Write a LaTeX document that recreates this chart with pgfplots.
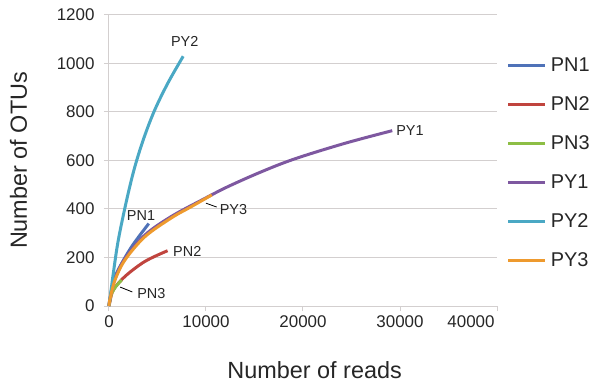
\documentclass[border=0pt]{standalone}
\usepackage{pgfplots}
\pgfplotsset{compat=1.18}
\usepackage{fontspec}
\setmainfont{Liberation Sans}
\definecolor{cPNa}{HTML}{4F72B8}
\definecolor{cPNb}{HTML}{C0443E}
\definecolor{cPNc}{HTML}{8DBE45}
\definecolor{cPYa}{HTML}{7E58A0}
\definecolor{cPYb}{HTML}{4AA8C4}
\definecolor{cPYc}{HTML}{EE9A2E}
\definecolor{gridc}{HTML}{D3CFCF}
\begin{document}
\begin{tikzpicture}
\begin{axis}[
  scale only axis, width=388bp, height=291bp,
  xmin=0, xmax=40000, ymin=0, ymax=1200,
  xtick={0,10000,20000,30000}, extra x ticks={40000},
  extra x tick style={xticklabel style={xshift=-26bp}},
  ytick={0,200,400,600,800,1000,1200},
  scaled x ticks=false,
  /pgf/number format/.cd, 1000 sep={}, assume math mode=true, /pgfplots/.cd,
  axis x line*=bottom, axis y line*=left,
  axis line style={draw=gridc, line width=1bp, -},
  ymajorgrids, major grid style={draw=gridc, line width=1bp},
  tick align=outside, major tick length=5bp,
  tick style={draw=gridc, line width=1bp},
  every tick label/.append style={font=\fontsize{17}{19}\selectfont, text=black!85},
  xticklabel style={yshift=-1bp},
  yticklabel style={xshift=-6bp},
  xlabel={Number of reads}, ylabel={Number of OTUs},
  label style={font=\fontsize{23.5}{26}\selectfont, text=black!85},
  xlabel style={at={(axis description cs:0.53,-0.22)}, anchor=center},
  ylabel style={at={(axis description cs:-0.233,0.5)}, anchor=center, rotate=0},
  legend style={draw=none, fill=none, at={(axis description cs:1.025,0.86)}, anchor=north west,
    font=\fontsize{20}{22}\selectfont, text=black!85, row sep=19.7bp, column sep=2bp, inner sep=0pt},
  legend cell align=left,
  legend image code/.code={\draw[#1, line width=3bp] (0bp,0bp) -- (37bp,0bp);},
  every axis plot/.append style={line width=3bp, smooth, tension=0.55},
  clip=false,
]
\addplot[cPNa] coordinates {(0,0)(100,28)(445,100)(960,150)(2340,245)(4100,340)};
\addlegendentry{PN1}
\addplot[cPNb] coordinates {(0,0)(100,18)(445,66)(1650,122)(3710,184)(6040,228)};
\addlegendentry{PN2}
\addplot[cPNc] coordinates {(0,0)(100,25)(280,52)(700,80)(1300,107)};
\addlegendentry{PN3}
\addplot[cPYa] coordinates {(0,0)(100,30)(620,112)(1650,196)(3710,293)(6460,370)(9900,444)(12300,493)(15740,554)(19170,607)(24330,671)(29200,723)};
\addlegendentry{PY1}
\addplot[cPYb] coordinates {(0,0)(100,30)(445,135)(960,272)(1820,437)(2650,572)(3600,693)(4700,807)(6080,920)(7650,1030)};
\addlegendentry{PY2}
\addplot[cPYc] coordinates {(0,0)(100,28)(620,107)(1650,190)(3710,286)(6460,364)(8500,410)(10600,458)};
\addlegendentry{PY3}
\coordinate (O) at (axis cs:0,0);
\coordinate (TR) at (axis cs:40000,1200);
\begin{scope}[every node/.style={font=\fontsize{14.5}{16}\selectfont, text=black!85, inner sep=0pt}]
\node[anchor=center] at (axis cs:7800,1090) {PY2};
\node[anchor=west] at (axis cs:29600,725) {PY1};
\node[anchor=center] at (axis cs:3300,372) {PN1};
\node[anchor=west] at (axis cs:6600,224) {PN2};
\node[anchor=west] at (axis cs:2900,50) {PN3};
\node[anchor=west] at (axis cs:11400,396) {PY3};
\end{scope}
\draw[black, line width=0.8bp] (axis cs:1150,78) -- (axis cs:2400,58);
\draw[black, line width=0.8bp] (axis cs:10000,424) -- (axis cs:11100,408);
\end{axis}
\pgfresetboundingbox
\path (O) ++(-109bp,-78bp) rectangle ([shift={(94bp,15bp)}]TR);
\end{tikzpicture}
\end{document}
